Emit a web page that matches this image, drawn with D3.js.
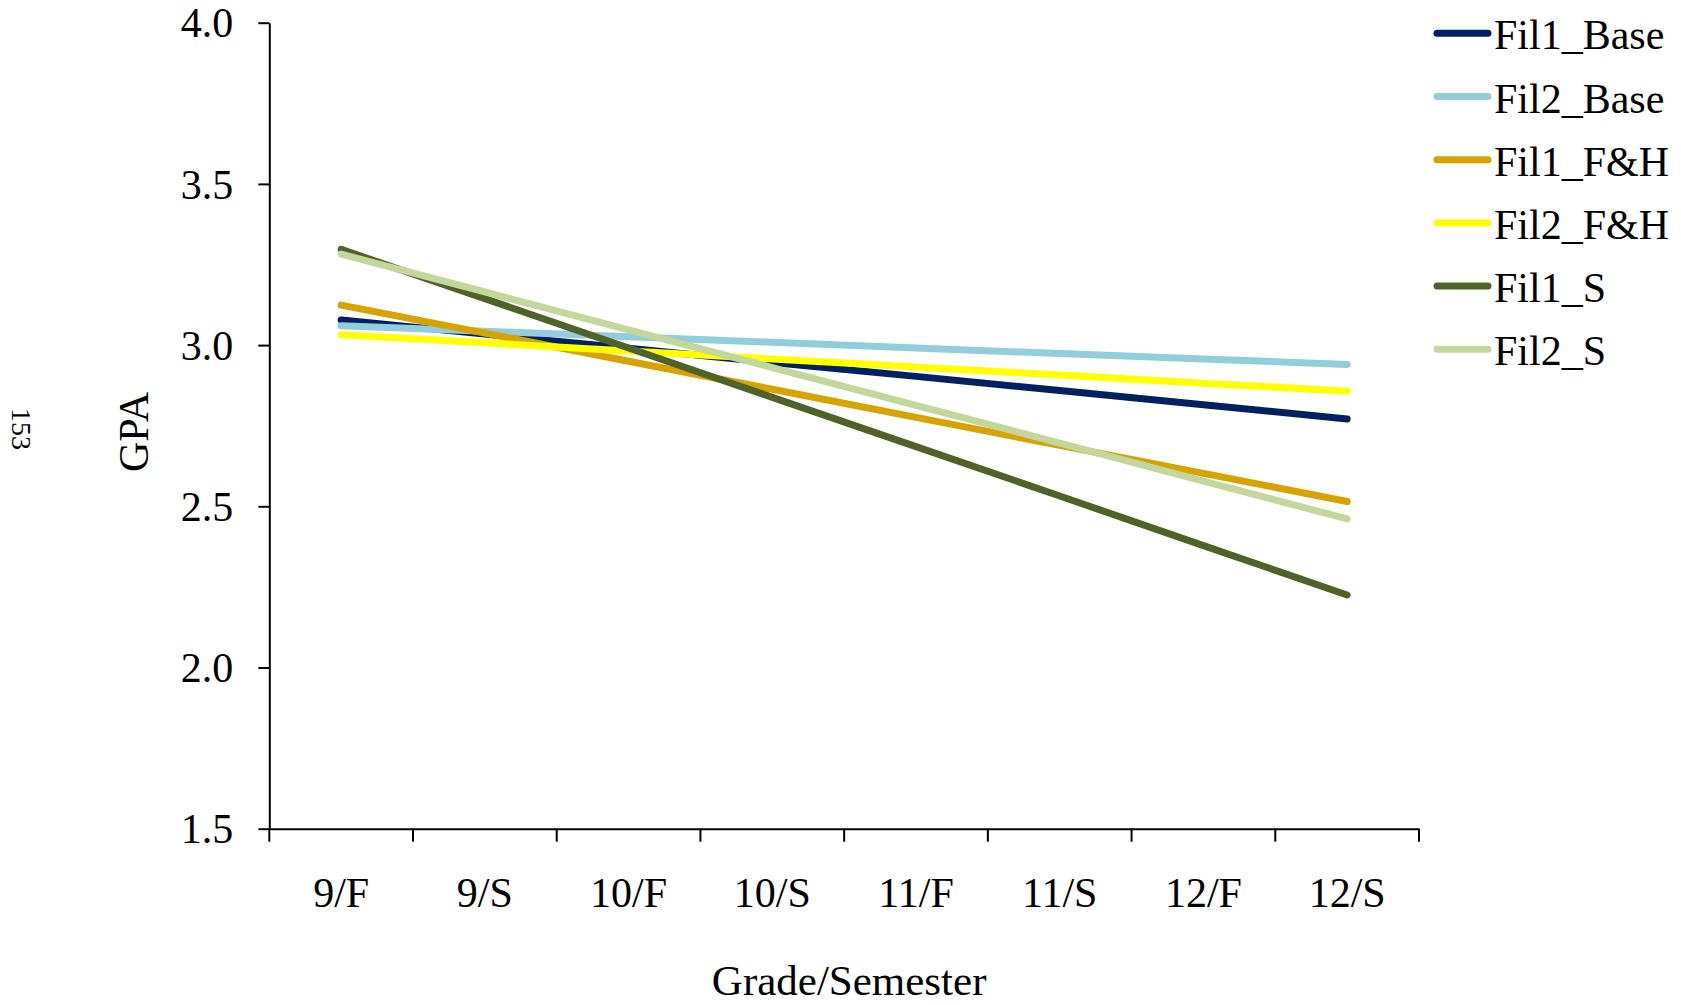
<!DOCTYPE html>
<meta charset="utf-8">
<script src="https://cdn.jsdelivr.net/npm/d3@7"></script>
<style type="text/css">
  body { margin: 0; background: #fff; }
  svg text { font-family: "Liberation Serif", "Times New Roman", serif; fill: #000; }
</style>
<body>
</body>
<script>

// grade / semester categories
var semesters = ["9/F", "9/S", "10/F", "10/S", "11/F", "11/S", "12/F", "12/S"];

// GPA per series
var fil1Base = [3.078, 3.034, 2.990, 2.946, 2.903, 2.859, 2.815, 2.771];
var fil2Base = [3.060, 3.043, 3.026, 3.009, 2.991, 2.974, 2.957, 2.940];
var fil1FH   = [3.124, 3.037, 2.950, 2.863, 2.776, 2.689, 2.602, 2.515];
var fil2FH   = [3.032, 3.007, 2.982, 2.957, 2.932, 2.907, 2.882, 2.857];
var fil1S    = [3.297, 3.144, 2.991, 2.838, 2.685, 2.532, 2.378, 2.225];
var fil2S    = [3.282, 3.165, 3.047, 2.930, 2.813, 2.696, 2.578, 2.461];

var seriesNames = ["Fil1_Base", "Fil2_Base", "Fil1_F&H", "Fil2_F&H", "Fil1_S", "Fil2_S"];
var seriesColors = ["#002060", "#92CDDC", "#D6A300", "#FFFF00", "#4F6228", "#C3D69B"];

var yTicks = [1.5, 2.0, 2.5, 3.0, 3.5, 4.0];

var series = [fil1Base, fil2Base, fil1FH, fil2FH, fil1S, fil2S].map(function(vals, i) {
  return { name: seriesNames[i], color: seriesColors[i], values: vals };
});

var width = 1681, height = 1005;
var plot = { left: 269.3, right: 1419, top: 22.7, bottom: 828.7 };

var svg = d3.select("body").append("svg")
  .attr("width", width)
  .attr("height", height);

var xScale = d3.scaleBand()
  .domain(semesters)
  .range([plot.left, plot.right])
  .padding(0);

var yScale = d3.scaleLinear()
  .domain([1.5, 4.0])
  .range([plot.bottom, plot.top]);

// y axis
var yAxis = d3.axisLeft(yScale)
  .tickValues(yTicks)
  .tickFormat(d3.format(".1f"))
  .tickSize(11)
  .tickSizeOuter(0)
  .tickPadding(25);

var yAxisGroup = svg.append("g")
  .attr("class", "y axis")
  .attr("transform", `translate(${plot.left},0)`)
  .call(yAxis);

yAxisGroup.selectAll("text").style("font-size", "42px").attr("dy", "0.34em");
yAxisGroup.selectAll("line").attr("stroke", "#000").attr("stroke-width", 2);
yAxisGroup.select(".domain").attr("stroke", "#000").attr("stroke-width", 2);

// x axis: labels at band centres, ticks at band edges
var xAxis = d3.axisBottom(xScale)
  .tickSize(0)
  .tickSizeOuter(0)
  .tickPadding(48);

var xAxisGroup = svg.append("g")
  .attr("class", "x axis")
  .attr("transform", `translate(0,${plot.bottom})`)
  .call(xAxis);

xAxisGroup.selectAll("text").style("font-size", "42px");
xAxisGroup.select(".domain").attr("stroke", "#000").attr("stroke-width", 2);

var edges = d3.range(semesters.length + 1).map(function(i) {
  return plot.left + i * xScale.step();
});

xAxisGroup.selectAll(".edge")
  .data(edges)
  .enter().append("line")
  .attr("class", "edge")
  .attr("x1", d => d).attr("x2", d => d)
  .attr("y1", 0).attr("y2", 13)
  .attr("stroke", "#000")
  .attr("stroke-width", 2);

// axis titles
svg.append("text")
  .attr("x", (plot.left + plot.right) / 2 + 5)
  .attr("y", 995)
  .attr("text-anchor", "middle")
  .style("font-size", "43px")
  .text("Grade/Semester");

svg.append("text")
  .attr("transform", "translate(148,432) rotate(-90)")
  .attr("text-anchor", "middle")
  .style("font-size", "42px")
  .text("GPA");

svg.append("text")
  .attr("transform", "translate(12,429) rotate(90)")
  .attr("text-anchor", "middle")
  .style("font-size", "28px")
  .text("153");

// lines
var line = d3.line()
  .x((d, i) => xScale(semesters[i]) + xScale.bandwidth() / 2)
  .y(d => yScale(d));

svg.selectAll(".series")
  .data(series)
  .enter().append("path")
  .attr("class", "series")
  .attr("d", d => line(d.values))
  .attr("fill", "none")
  .attr("stroke", d => d.color)
  .attr("stroke-width", 7)
  .attr("stroke-linecap", "round")
  .attr("stroke-linejoin", "round");

// legend
var legend = svg.append("g").attr("class", "legend");

var legendItem = legend.selectAll(".item")
  .data(series)
  .enter().append("g")
  .attr("class", "item")
  .attr("transform", (d, i) => `translate(0,${33.3 + i * 63.2})`);

legendItem.append("line")
  .attr("x1", 1437).attr("x2", 1488)
  .attr("y1", 0).attr("y2", 0)
  .attr("stroke", d => d.color)
  .attr("stroke-width", 7)
  .attr("stroke-linecap", "round");

legendItem.append("text")
  .attr("x", 1494)
  .attr("y", 16)
  .style("font-size", "42px")
  .text(d => d.name);

</script>
